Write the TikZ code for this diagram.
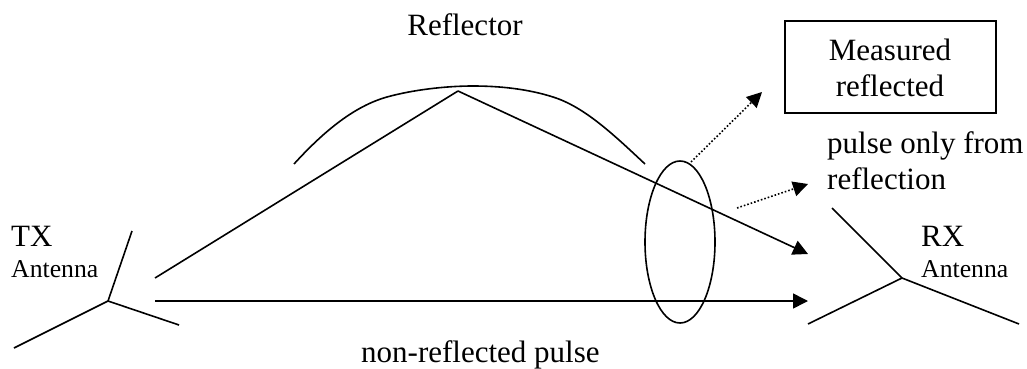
\documentclass[tikz,border=0pt]{standalone}
\usepackage{fontspec}
\setmainfont{Liberation Serif}
\usetikzlibrary{arrows.meta,positioning,calc,shapes.geometric}
\tikzset{
  lbl/.style     = {inner sep=0pt, font=\fontsize{31}{37}\selectfont},
  lblsm/.style   = {inner sep=0pt, font=\fontsize{25.7}{30}\selectfont},
  msrbox/.style  = {draw, line width=1.6pt, inner sep=0pt, minimum width=211pt, minimum height=92pt},
  ell/.style     = {draw, ellipse, line width=1.6pt, minimum width=70pt, minimum height=162pt, inner sep=0pt},
  edg/.style     = {line width=1.6pt},
  ray/.style     = {line width=1.6pt, -{Triangle[length=15pt,width=15pt]}},
  rayd/.style    = {line width=1.6pt, dotted, -{Triangle[length=15pt,width=15pt]}},
}
\begin{document}
\begin{tikzpicture}[x=1pt,y=-1pt]
  \useasboundingbox (0,0) rectangle (1027,369);
  % antennas
  \coordinate (txc) at (108,301);
  \coordinate (txa) at (132,231);
  \coordinate (txb) at (14,348);
  \coordinate (txd) at (179,325);
  \coordinate (rxc) at (902,278);
  \coordinate (rxa) at (832,208);
  \coordinate (rxb) at (808,324);
  \coordinate (rxd) at (1019,324);
  \foreach \a in {txa,txb,txd} \draw[edg] (txc) -- (\a);
  \foreach \a in {rxa,rxb,rxd} \draw[edg] (rxc) -- (\a);
  % rays
  \coordinate (top) at (458,91);
  \coordinate (s1) at (155,278);
  \coordinate (s2) at (155,301);
  \coordinate (e1) at (808,254);
  \coordinate (e2) at (808,301);
  \draw[edg] (s1) -- (top);
  \draw[ray] (top) -- (e1);
  \draw[ray] (s2) -- (e2);
  % reflector
  \coordinate (refl) at (294,164);
  \coordinate (refm) at (473,86);
  \coordinate (refr) at (645,164);
  \draw[edg] (refl) .. controls (325,130) and (355,106) .. (387,97)
    .. controls (412,90) and (445,86) .. (refm)
    .. controls (500,86) and (528,89) .. (553,97)
    .. controls (585,107) and (615,136) .. (refr);
  % window
  \node[ell] (win) at (680,242) {};
  \coordinate (d1s) at (691,162);
  \coordinate (d1e) at (762,92);
  \coordinate (d2s) at (737,208);
  \coordinate (d2e) at (808,184);
  \draw[rayd] (d1s) -- (d1e);
  \draw[rayd] (d2s) -- (d2e);
  % labels
  \node[msrbox] (box) at (890.5,67) {};
  \node[lbl,anchor=base] (mea) at (890,60) {Measured};
  \node[lbl,anchor=base] (rfd) at (890,96) {reflected};
  \node[lbl,anchor=base west] (pul) at (827,153) {pulse only from};
  \node[lbl,anchor=base west] (rfn) at (827,189) {reflection};
  \node[lbl,anchor=base] (rfr) at (465,36) {Reflector};
  \node[lbl,anchor=base west] (nrp) at (361,362) {non-reflected pulse};
  \node[lbl,anchor=base west] (tx) at (11,246) {TX};
  \node[lblsm,anchor=base west] (txant) at (11,277) {Antenna};
  \node[lbl,anchor=base west] (rx) at (921,246) {RX};
  \node[lblsm,anchor=base west] (rxant) at (921,277) {Antenna};
\end{tikzpicture}
\end{document}
